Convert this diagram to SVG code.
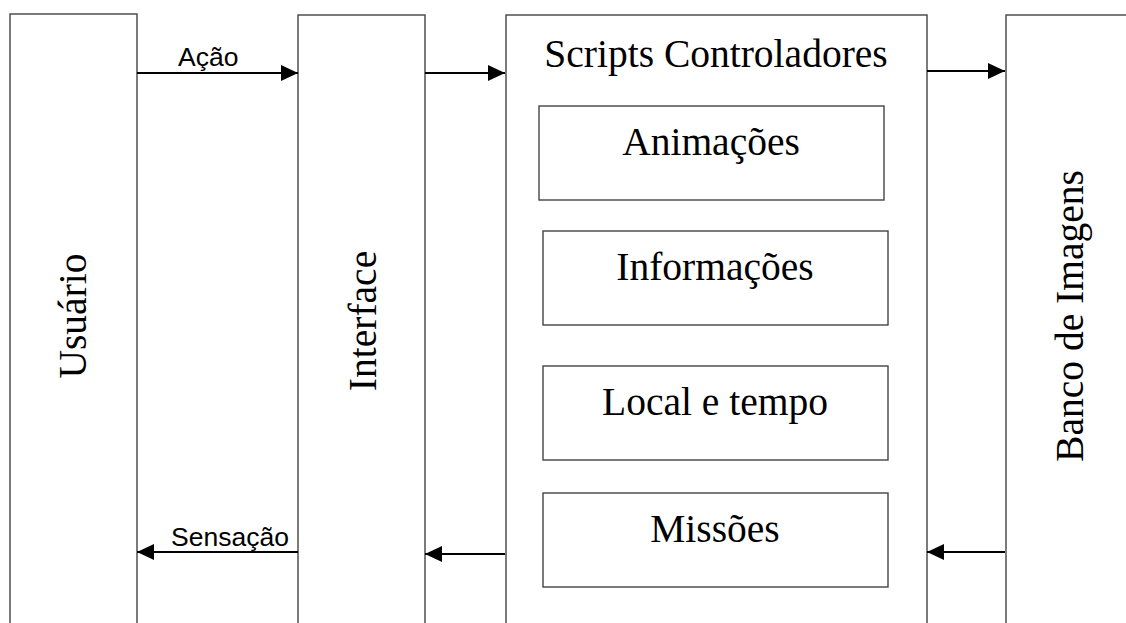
<svg xmlns="http://www.w3.org/2000/svg" width="1126" height="623" viewBox="0 0 1126 623">
<style>
.box{fill:#fff;stroke:#444;stroke-width:1.4}
.serif{font-family:"Liberation Serif","Times New Roman",serif;font-size:39.5px;fill:#000}
.sans{font-family:"Liberation Sans",Arial,sans-serif;font-size:26.5px;fill:#000}
.conn{stroke:#000;stroke-width:2.2;fill:none;marker-end:url(#ah)}
</style>
<defs>
<marker id="ah" markerUnits="userSpaceOnUse" markerWidth="18" markerHeight="16" refX="17" refY="8" orient="auto">
<path d="M0,0 L17,8 L0,16 Z" fill="#000"/>
</marker>
</defs>
<rect width="1126" height="623" fill="#fff"/>
<g id="usuario">
<rect class="box" x="10" y="14" width="127" height="620"/>
<text class="serif" text-anchor="middle" transform="translate(86,316) rotate(-90)">Usuário</text>
</g>
<g id="interface">
<rect class="box" x="298" y="15" width="127" height="620"/>
<text class="serif" text-anchor="middle" transform="translate(376,321) rotate(-90)">Interface</text>
</g>
<g id="scripts">
<rect class="box" x="506" y="15" width="421" height="620"/>
<text class="serif" text-anchor="middle" x="716" y="67">Scripts Controladores</text>
</g>
<g id="animacoes">
<rect class="box" x="539" y="106" width="345" height="94"/>
<text class="serif" text-anchor="middle" x="711" y="155">Animações</text>
</g>
<g id="informacoes">
<rect class="box" x="543" y="231" width="345" height="94"/>
<text class="serif" text-anchor="middle" x="715" y="280">Informações</text>
</g>
<g id="local">
<rect class="box" x="543" y="366" width="345" height="94"/>
<text class="serif" text-anchor="middle" x="715" y="415">Local e tempo</text>
</g>
<g id="missoes">
<rect class="box" x="543" y="493" width="345" height="94"/>
<text class="serif" text-anchor="middle" x="715" y="542">Missões</text>
</g>
<g id="banco">
<rect class="box" x="1006" y="15" width="140" height="620"/>
<text class="serif" text-anchor="middle" transform="translate(1083,316) rotate(-90)">Banco de Imagens</text>
</g>
<g id="connectors">
<line class="conn" x1="137" y1="73" x2="298" y2="73"/>
<text class="sans" x="178" y="66">Ação</text>
<line class="conn" x1="425" y1="73" x2="505" y2="73"/>
<line class="conn" x1="927" y1="71" x2="1005" y2="71"/>
<line class="conn" x1="298" y1="552" x2="137" y2="552"/>
<text class="sans" x="171" y="546">Sensação</text>
<line class="conn" x1="505" y1="554" x2="425" y2="554"/>
<line class="conn" x1="1005" y1="552" x2="927" y2="552"/>
</g>
</svg>
